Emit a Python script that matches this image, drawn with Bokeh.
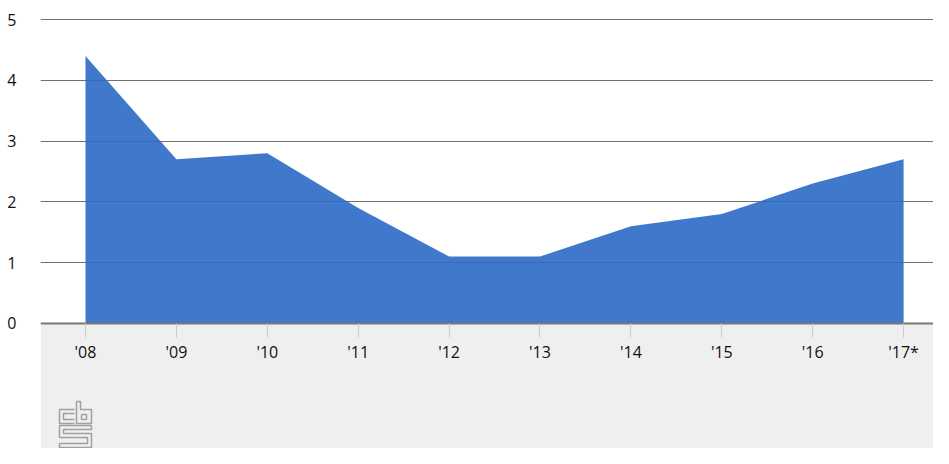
from bokeh.plotting import figure
from bokeh.models import FixedTicker, LinearAxis, Range1d, BoxAnnotation
from bokeh.embed import file_html
from bokeh.resources import INLINE

years = ["'08", "'09", "'10", "'11", "'12", "'13", "'14", "'15", "'16", "'17*"]
values = [4.4, 2.7, 2.8, 1.9, 1.1, 1.1, 1.6, 1.8, 2.3, 2.7]
y_ticks = [0, 1, 2, 3, 4, 5]

FONT = "Open Sans"
xs = list(range(len(years)))

p = figure(width=933, height=448, output_backend="svg", toolbar_location=None,
           x_range=Range1d(-0.495, 9.329), y_range=Range1d(-2.059, 5.313),
           min_border_left=40, min_border_right=0, min_border_top=0, min_border_bottom=0,
           x_axis_location=None, y_axis_location="left")
p.outline_line_color = None
p.background_fill_color = "white"
p.border_fill_color = "white"
p.xgrid.visible = False
p.ygrid.ticker = FixedTicker(ticks=[1, 2, 3, 4, 5])
p.ygrid.grid_line_color = "#707070"
p.ygrid.grid_line_width = 1

# grey band below the zero line
p.add_layout(BoxAnnotation(top=0, fill_color="#efefef", fill_alpha=1.0,
                           line_color=None, level="underlay"))

p.varea(x=xs, y1=[0] * len(xs), y2=values, fill_color="#2b6ac6", fill_alpha=0.9)

yax = p.yaxis[0]
yax.ticker = FixedTicker(ticks=y_ticks)
yax.axis_line_color = None
yax.major_tick_line_color = None
yax.minor_tick_line_color = None
yax.major_label_standoff = 18
yax.major_label_text_font = FONT
yax.major_label_text_font_size = "16px"
yax.major_label_text_color = "#111111"

xax = LinearAxis(fixed_location=0, ticker=FixedTicker(ticks=xs),
                 major_label_overrides={i: t for i, t in enumerate(years)})
xax.axis_line_color = "#777777"
xax.axis_line_width = 2
xax.major_tick_in = 0
xax.major_tick_out = 14
xax.major_tick_line_color = "#cccccc"
xax.minor_tick_line_color = None
xax.major_label_standoff = 4
xax.major_label_text_font = FONT
xax.major_label_text_font_size = "16px"
xax.major_label_text_color = "#111111"
p.add_layout(xax, "below")

# cbs logo (decorative), outlined in page pixels relative to the chart scales
def px(x):
    return (x - 85) / 90.9

def py(y):
    return (323 - y) / 60.7

logo = [
    [(74, 409), (59, 409), (59, 423), (74, 423)],
    [(74, 413), (63, 413), (63, 419), (74, 419)],
    [(76, 401), (76, 423), (91, 423), (91, 409), (80, 409), (80, 401), (76, 401)],
    [(81, 414), (86, 414), (86, 419), (81, 419), (81, 414)],
    [(91, 425), (59, 425), (59, 437), (87, 437), (87, 443), (59, 443), (59, 447),
     (91, 447), (91, 433), (63, 433), (63, 429), (91, 429), (91, 425)],
]
p.multi_line(xs=[[px(a) for a, b in part] for part in logo],
             ys=[[py(b) for a, b in part] for part in logo],
             line_color="#a0a0a0", line_width=1.5)

open("out.html", "w").write(file_html(p, INLINE))
